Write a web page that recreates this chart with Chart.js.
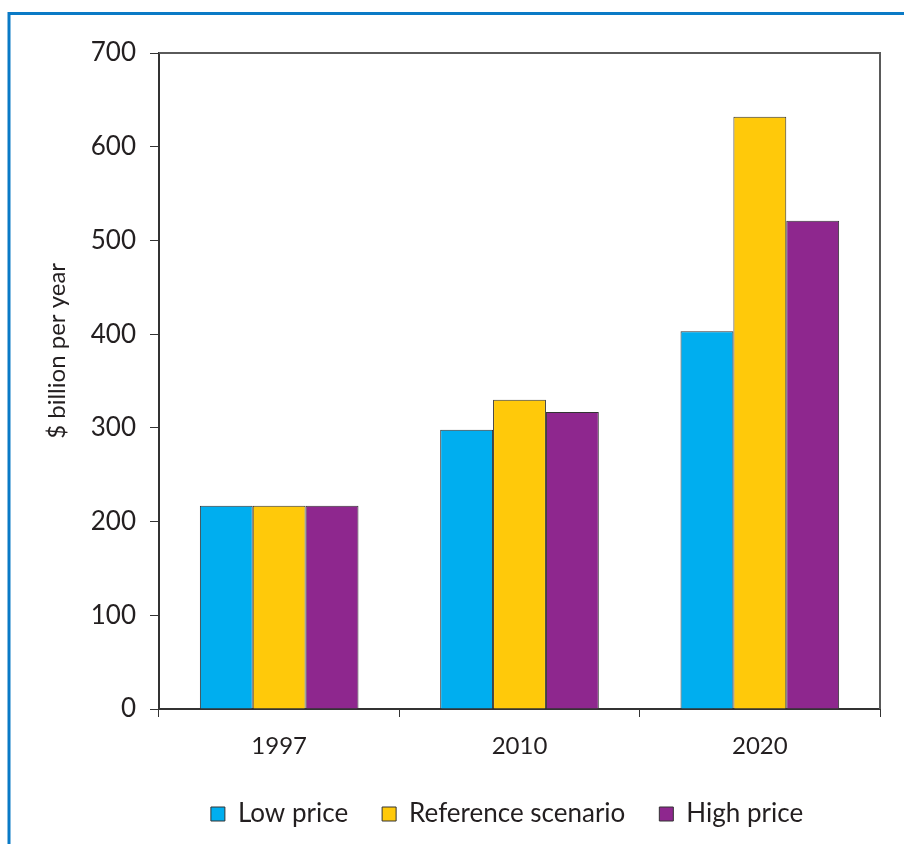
<!DOCTYPE html>
<html>
<head>
<meta charset="utf-8">
<script src="https://cdn.jsdelivr.net/npm/chart.js@4.4.1/dist/chart.umd.min.js"></script>
<style>
  html, body { margin: 0; padding: 0; background: #ffffff; }
  #wrap { width: 904px; height: 844px; position: relative; }
</style>
</head>
<body>
<div id="wrap"><canvas id="c" width="904" height="844"></canvas></div>
<script>
// Investment needs, $ billion per year
const years = ['1997', '2010', '2020'];
const lowPrice = [217, 298, 403];
const referenceScenario = [217, 330, 632];
const highPrice = [217, 317, 521];
const seriesNames = ['Low price', 'Reference scenario', 'High price'];
const yTicks = [0, 100, 200, 300, 400, 500, 600, 700];
const yTitle = '$ billion per year';

const FONT = 'Lato, "Noto Sans", sans-serif';
const INK = '#231f20';

// Blue frame around the figure, the box around the plot area and the y-axis title
const framePlugin = {
  id: 'frame',
  afterLayout(chart) {
    // centre the legend under the plot rather than the whole canvas
    const lg = chart.legend;
    if (lg) {
      const shift = 48;
      lg.left += shift;
      lg.right += shift;
    }
  },
  beforeDraw(chart) {
    const ctx = chart.ctx;
    ctx.save();
    ctx.fillStyle = '#ffffff';
    ctx.fillRect(0, 0, chart.width, chart.height);
    ctx.strokeStyle = '#0a7ac6';
    ctx.lineWidth = 3;
    ctx.beginPath();
    ctx.moveTo(9, chart.height);
    ctx.lineTo(9, 13.5);
    ctx.lineTo(chart.width, 13.5);
    ctx.stroke();
    ctx.restore();
  },
  afterDatasetsDraw(chart) {
    const a = chart.chartArea;
    const ctx = chart.ctx;
    ctx.save();
    ctx.strokeStyle = '#5a5a5a';
    ctx.lineWidth = 2;
    ctx.beginPath();
    ctx.moveTo(a.left, a.top);
    ctx.lineTo(a.right, a.top);
    ctx.lineTo(a.right, a.bottom);
    ctx.stroke();

    // rotated axis title, set a little above the middle of the axis
    const y = chart.scales.y;
    const y0 = y.getPixelForValue(0);
    const y1 = y.getPixelForValue(700);
    ctx.translate(57, y0 - 0.52 * (y0 - y1) - 17);
    ctx.rotate(-Math.PI / 2);
    ctx.fillStyle = INK;
    ctx.font = '24px ' + FONT;
    ctx.textAlign = 'center';
    ctx.textBaseline = 'middle';
    ctx.fillText(yTitle, 0, 0);
    ctx.restore();
  }
};

new Chart(document.getElementById('c'), {
  type: 'bar',
  data: {
    labels: years,
    datasets: [
      { label: seriesNames[0], data: lowPrice, backgroundColor: '#00aeef' },
      { label: seriesNames[1], data: referenceScenario, backgroundColor: '#ffc90a' },
      { label: seriesNames[2], data: highPrice, backgroundColor: '#8e278e' }
    ].map(d => Object.assign(d, {
      borderColor: '#333333',
      borderWidth: 1,
      categoryPercentage: 0.66,
      barPercentage: 1.0
    }))
  },
  options: {
    responsive: false,
    animation: false,
    devicePixelRatio: 1,
    layout: { padding: { left: 38, right: 24, top: 53, bottom: 7 } },
    plugins: {
      tooltip: { enabled: false },
      legend: {
        position: 'bottom',
        labels: {
          font: { family: FONT, size: 26 },
          color: INK,
          boxWidth: 14,
          boxHeight: 14,
          padding: 34,
          generateLabels(chart) {
            return chart.data.datasets.map((ds, i) => ({
              text: ds.label,
              fillStyle: ds.backgroundColor,
              strokeStyle: '#333333',
              lineWidth: 1,
              fontColor: INK,
              datasetIndex: i
            }));
          }
        }
      }
    },
    scales: {
      x: {
        grid: { display: true, drawOnChartArea: false, drawTicks: true, tickLength: 8, color: '#333333', offset: true },
        border: { display: true, color: '#333333', width: 2 },
        ticks: { font: { family: FONT, size: 24 }, color: INK, padding: 15 },
        afterFit(scale) { scale.height = 58; }
      },
      y: {
        min: 0,
        max: 700,
        afterBuildTicks(scale) { scale.ticks = yTicks.map(v => ({ value: v })); },
        grid: { display: true, drawOnChartArea: false, drawTicks: true, tickLength: 9, color: '#333333' },
        border: { display: true, color: '#333333', width: 2 },
        ticks: { font: { family: FONT, size: 26 }, color: INK, padding: 14 },
        afterFit(scale) { scale.width = 121; }
      }
    }
  },
  plugins: [framePlugin]
});
</script>
</body>
</html>
